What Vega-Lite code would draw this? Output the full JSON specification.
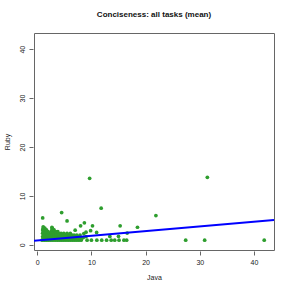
{
  "$schema": "https://vega.github.io/schema/vega-lite/v6.json",
  "width": 240,
  "height": 217,
  "autosize": "none",
  "padding": {"left": 34, "top": 33, "right": 17, "bottom": 41},
  "background": "white",
  "title": {"text": "Conciseness: all tasks (mean)", "font": "Liberation Sans", "fontSize": 8, "fontWeight": "bold", "color": "#111", "anchor": "middle", "frame": "group", "offset": 14},
  "config": {
    "view": {"stroke": "#666", "strokeWidth": 1},
    "axis": {"grid": false, "domain": false, "tickColor": "#666", "tickSize": 4, "offset": 1, "labelFont": "Liberation Sans", "labelFontSize": 7, "labelColor": "#222", "titleFont": "Liberation Sans", "titleFontSize": 7, "titleFontWeight": "normal", "titleColor": "#222"}
  },
  "datasets": {
    "pts": [
      {"java": 0.9, "ruby": 0.95}, {"java": 1.3, "ruby": 0.95}, {"java": 1.7, "ruby": 0.95}, {"java": 2.1, "ruby": 0.95}, {"java": 2.5, "ruby": 0.95}, {"java": 2.9, "ruby": 0.95}, {"java": 3.3, "ruby": 0.95}, {"java": 3.7, "ruby": 0.95}, {"java": 4.1, "ruby": 0.95}, {"java": 4.5, "ruby": 0.95}, {"java": 4.9, "ruby": 0.95}, {"java": 5.3, "ruby": 0.95}, {"java": 5.7, "ruby": 0.95}, {"java": 6.1, "ruby": 0.95}, {"java": 6.5, "ruby": 0.95}, {"java": 6.9, "ruby": 0.95}, {"java": 7.3, "ruby": 0.95}, {"java": 7.7, "ruby": 0.95}, {"java": 8.1, "ruby": 0.95},
      {"java": 1.1, "ruby": 1.35}, {"java": 1.5, "ruby": 1.35}, {"java": 1.9, "ruby": 1.35}, {"java": 2.3, "ruby": 1.35}, {"java": 2.7, "ruby": 1.35}, {"java": 3.1, "ruby": 1.35}, {"java": 3.5, "ruby": 1.35}, {"java": 3.9, "ruby": 1.35}, {"java": 4.3, "ruby": 1.35}, {"java": 4.7, "ruby": 1.35}, {"java": 5.1, "ruby": 1.35}, {"java": 5.5, "ruby": 1.35}, {"java": 5.9, "ruby": 1.35}, {"java": 6.3, "ruby": 1.35}, {"java": 6.7, "ruby": 1.35}, {"java": 7.1, "ruby": 1.35}, {"java": 7.5, "ruby": 1.35}, {"java": 7.9, "ruby": 1.35}, {"java": 8.2, "ruby": 1.35},
      {"java": 1.0, "ruby": 1.7}, {"java": 1.4, "ruby": 1.7}, {"java": 1.8, "ruby": 1.7}, {"java": 2.2, "ruby": 1.7}, {"java": 2.6, "ruby": 1.7}, {"java": 3.0, "ruby": 1.7}, {"java": 3.4, "ruby": 1.7}, {"java": 3.8, "ruby": 1.7}, {"java": 4.2, "ruby": 1.7}, {"java": 4.6, "ruby": 1.7}, {"java": 5.0, "ruby": 1.7}, {"java": 5.4, "ruby": 1.7}, {"java": 5.8, "ruby": 1.7}, {"java": 6.2, "ruby": 1.7}, {"java": 6.6, "ruby": 1.7}, {"java": 7.0, "ruby": 1.7}, {"java": 7.4, "ruby": 1.7}, {"java": 7.8, "ruby": 1.7},
      {"java": 1.2, "ruby": 2.0}, {"java": 1.6, "ruby": 2.0}, {"java": 2.0, "ruby": 2.0}, {"java": 2.4, "ruby": 2.0}, {"java": 2.8, "ruby": 2.0}, {"java": 3.2, "ruby": 2.0}, {"java": 3.6, "ruby": 2.0}, {"java": 4.0, "ruby": 2.0}, {"java": 4.4, "ruby": 2.0}, {"java": 4.8, "ruby": 2.0}, {"java": 5.2, "ruby": 2.0}, {"java": 5.6, "ruby": 2.0}, {"java": 6.0, "ruby": 2.0}, {"java": 6.4, "ruby": 2.0}, {"java": 6.8, "ruby": 2.0}, {"java": 7.3, "ruby": 2.0}, {"java": 7.9, "ruby": 2.0},
      {"java": 1.0, "ruby": 2.35}, {"java": 1.4, "ruby": 2.35}, {"java": 1.8, "ruby": 2.35}, {"java": 2.3, "ruby": 2.35}, {"java": 2.7, "ruby": 2.35}, {"java": 3.1, "ruby": 2.35}, {"java": 3.5, "ruby": 2.35}, {"java": 3.9, "ruby": 2.35}, {"java": 4.4, "ruby": 2.35}, {"java": 4.9, "ruby": 2.35}, {"java": 5.5, "ruby": 2.35}, {"java": 6.1, "ruby": 2.35},
      {"java": 1.1, "ruby": 2.7}, {"java": 1.5, "ruby": 2.7}, {"java": 2.0, "ruby": 2.7}, {"java": 2.6, "ruby": 2.7}, {"java": 3.0, "ruby": 2.7}, {"java": 3.4, "ruby": 2.7}, {"java": 3.8, "ruby": 2.7},
      {"java": 1.0, "ruby": 3.05}, {"java": 1.3, "ruby": 3.05}, {"java": 1.7, "ruby": 3.05}, {"java": 2.7, "ruby": 3.05}, {"java": 3.1, "ruby": 3.05},
      {"java": 1.1, "ruby": 3.4}, {"java": 1.4, "ruby": 3.4}, {"java": 2.8, "ruby": 3.4},
      {"java": 1.1, "ruby": 3.7}, {"java": 2.7, "ruby": 3.6},
      {"java": 1.0, "ruby": 5.5}, {"java": 4.5, "ruby": 6.6}, {"java": 5.5, "ruby": 4.9}, {"java": 7.0, "ruby": 3.0}, {"java": 8.0, "ruby": 3.9}, {"java": 8.7, "ruby": 4.5},
      {"java": 8.6, "ruby": 2.3}, {"java": 9.0, "ruby": 1.7}, {"java": 8.5, "ruby": 1.5}, {"java": 9.0, "ruby": 2.6},
      {"java": 9.67, "ruby": 13.6}, {"java": 11.8, "ruby": 7.5}, {"java": 10.2, "ruby": 3.9}, {"java": 9.85, "ruby": 2.9}, {"java": 10.96, "ruby": 2.55},
      {"java": 13.4, "ruby": 1.73}, {"java": 15.0, "ruby": 1.74}, {"java": 15.3, "ruby": 3.9}, {"java": 16.6, "ruby": 2.4}, {"java": 18.5, "ruby": 3.6}, {"java": 21.9, "ruby": 6.0}, {"java": 31.4, "ruby": 13.8},
      {"java": 9.2, "ruby": 0.95}, {"java": 10.0, "ruby": 0.95}, {"java": 11.0, "ruby": 0.95}, {"java": 11.9, "ruby": 0.95}, {"java": 12.8, "ruby": 0.95}, {"java": 13.65, "ruby": 0.95}, {"java": 14.3, "ruby": 0.95}, {"java": 15.1, "ruby": 0.95}, {"java": 16.0, "ruby": 0.95}, {"java": 16.5, "ruby": 0.95},
      {"java": 27.4, "ruby": 0.95}, {"java": 30.9, "ruby": 0.95}, {"java": 41.9, "ruby": 0.95}
    ],
    "fit": [
      {"java": -0.6, "ruby": 0.84},
      {"java": 43.7, "ruby": 5.07}
    ]
  },
  "layer": [
    {
      "data": {"name": "pts"},
      "mark": {"type": "circle", "size": 14, "color": "#2e9e2e", "opacity": 1},
      "encoding": {
        "x": {"field": "java", "type": "quantitative", "title": "Java", "scale": {"domain": [-0.6, 43.7], "nice": false, "zero": false}, "axis": {"values": [0, 10, 20, 30, 40], "labelPadding": 3, "titlePadding": 8}},
        "y": {"field": "ruby", "type": "quantitative", "title": "Ruby", "scale": {"domain": [-1.05, 43.3], "nice": false, "zero": false}, "axis": {"values": [0, 10, 20, 30, 40], "labelAngle": -90, "labelAlign": "center", "labelBaseline": "bottom", "labelPadding": 4, "titlePadding": 8}}
      }
    },
    {
      "data": {"name": "fit"},
      "mark": {"type": "line", "color": "#0000ff", "strokeWidth": 2, "clip": true},
      "encoding": {
        "x": {"field": "java", "type": "quantitative"},
        "y": {"field": "ruby", "type": "quantitative"}
      }
    }
  ]
}
